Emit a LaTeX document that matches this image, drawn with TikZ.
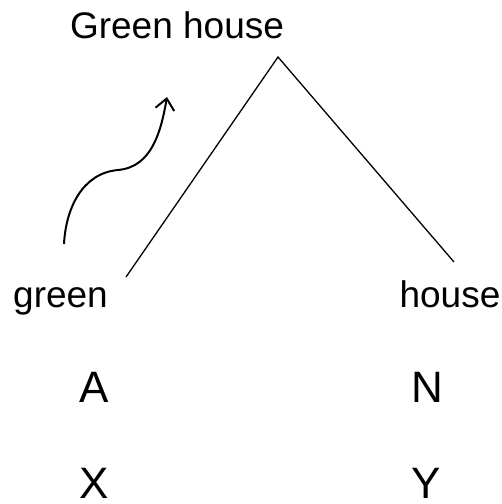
\documentclass[tikz,border=0pt]{standalone}
\usepackage{fontspec}
\setmainfont{Liberation Sans}
\usetikzlibrary{arrows.meta}
\begin{document}
\begin{tikzpicture}[x=1pt,y=-1pt,
  lbl/.style={inner sep=0pt,anchor=base,font=\fontsize{37}{44}\selectfont},
  cat/.style={inner sep=0pt,anchor=base,font=\fontsize{44}{52}\selectfont},
  branch/.style={line width=1.3pt},
  move/.style={line width=2pt,-{Straight Barb[length=11pt,width=19pt,line width=2pt]}}]
\useasboundingbox (0,0) rectangle (502,504);
\node[lbl] (top) at (177,38) {Green house};
\node[lbl] (green) at (60.5,307) {green};
\node[lbl] (house) at (450,307) {house};
\node[cat] (A) at (94,402) {A};
\node[cat] (N) at (427,402) {N};
\node[cat] (X) at (94,498) {X};
\node[cat] (Y) at (426,498) {Y};
\coordinate (apex) at (278,57);
\coordinate (lend) at (126,277);
\coordinate (rend) at (454,262);
\coordinate (mstart) at (64,244);
\coordinate (mmid) at (118,170);
\coordinate (mtip) at (167,97);
\draw[branch] (lend) -- (apex) -- (rend);
\draw[move] (mstart) to[out=87,in=185] (mmid) to[out=5,in=-100] (mtip);
\end{tikzpicture}
\end{document}
